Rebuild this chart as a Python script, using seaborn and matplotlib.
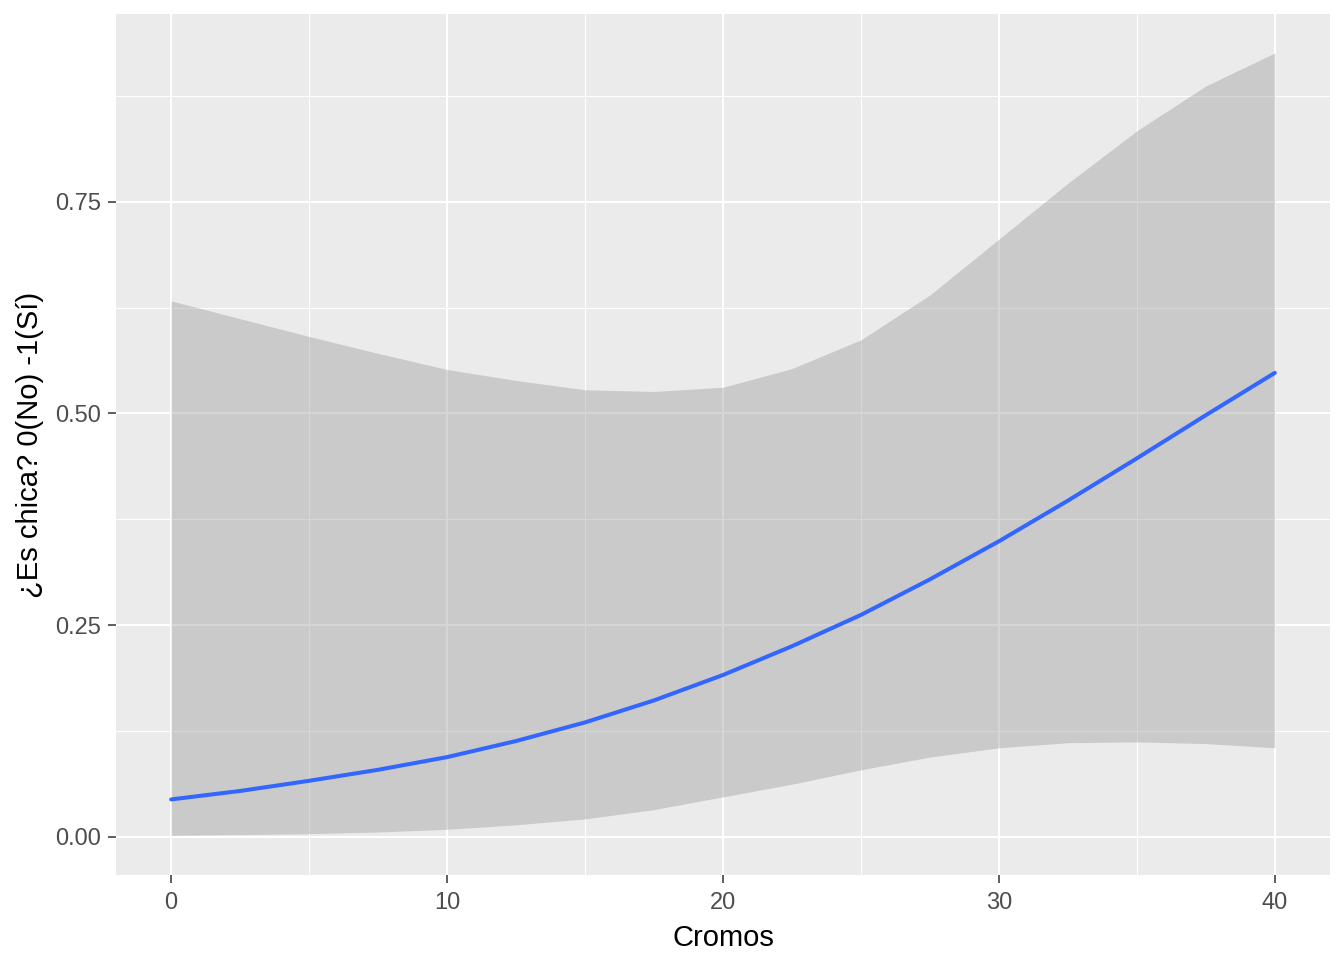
import matplotlib
matplotlib.use("Agg")
import matplotlib.pyplot as plt
import seaborn as sns
import pandas as pd
from matplotlib.ticker import FixedLocator

# Data
cromos = [0, 2.5, 5, 7.5, 10, 12.5, 15, 17.5, 20, 22.5, 25, 27.5, 30, 32.5, 35, 37.5, 40]
fit = [0.044, 0.054, 0.066, 0.079, 0.094, 0.113, 0.135, 0.161, 0.191, 0.225,
       0.262, 0.304, 0.349, 0.397, 0.447, 0.498, 0.548]
upper = [0.633, 0.612, 0.591, 0.571, 0.552, 0.539, 0.528, 0.526, 0.531, 0.553,
         0.587, 0.640, 0.706, 0.772, 0.834, 0.887, 0.926]
lower = [0.0016, 0.0025, 0.0035, 0.0055, 0.0087, 0.014, 0.021, 0.032, 0.047, 0.062,
         0.079, 0.094, 0.105, 0.111, 0.112, 0.110, 0.105]

x_ticks = [0, 10, 20, 30, 40]
x_tick_labels = ["0", "10", "20", "30", "40"]
y_ticks = [0.0, 0.25, 0.5, 0.75]
y_tick_labels = ["0.00", "0.25", "0.50", "0.75"]

df = pd.DataFrame({"Cromos": cromos, "fit": fit, "upper": upper, "lower": lower})

sns.set_theme(style="darkgrid")
plt.rcParams["font.family"] = ["Liberation Sans", "DejaVu Sans"]

fig = plt.figure(figsize=(13.44, 9.6), dpi=100)
ax = fig.add_axes([116/1344, 1 - 875/960, (1330-116)/1344, (875-14)/960])
ax.set_facecolor("#EBEBEB")
for s in ax.spines.values():
    s.set_visible(False)

ax.set_xlim(-2, 42)
ax.set_ylim(-0.0453, 0.972)

ax.xaxis.set_major_locator(FixedLocator(x_ticks))
ax.yaxis.set_major_locator(FixedLocator(y_ticks))
ax.xaxis.set_minor_locator(FixedLocator([5, 15, 25, 35]))
ax.yaxis.set_minor_locator(FixedLocator([0.125, 0.375, 0.625, 0.875]))
ax.set_xticklabels(x_tick_labels)
ax.set_yticklabels(y_tick_labels)

ax.grid(which="major", color="white", linewidth=1.5, zorder=0)
ax.grid(which="minor", color="white", linewidth=0.75, zorder=0)
ax.set_axisbelow(True)

ax.tick_params(axis="both", which="major", length=5.5, width=1.1, color="#333333",
               labelcolor="#4D4D4D", labelsize=17, direction="out")
ax.tick_params(axis="x", which="major", pad=7)
ax.tick_params(axis="y", which="major", pad=5.5)
ax.tick_params(axis="both", which="minor", length=0)
ax.tick_params(axis="x", bottom=True)
ax.tick_params(axis="y", left=True)

ax.fill_between(df["Cromos"], df["lower"], df["upper"], color="#999999",
                alpha=0.4, linewidth=0, zorder=2)
sns.lineplot(data=df, x="Cromos", y="fit", ax=ax, color="#3366FF",
             linewidth=2.9, zorder=3)

ax.set_xlabel("Cromos", fontsize=21, color="black", labelpad=7)
ax.set_ylabel("¿Es chica? 0(No) -1(Sí)", fontsize=21, color="black", labelpad=8)

fig.savefig("out.png", dpi=100)
